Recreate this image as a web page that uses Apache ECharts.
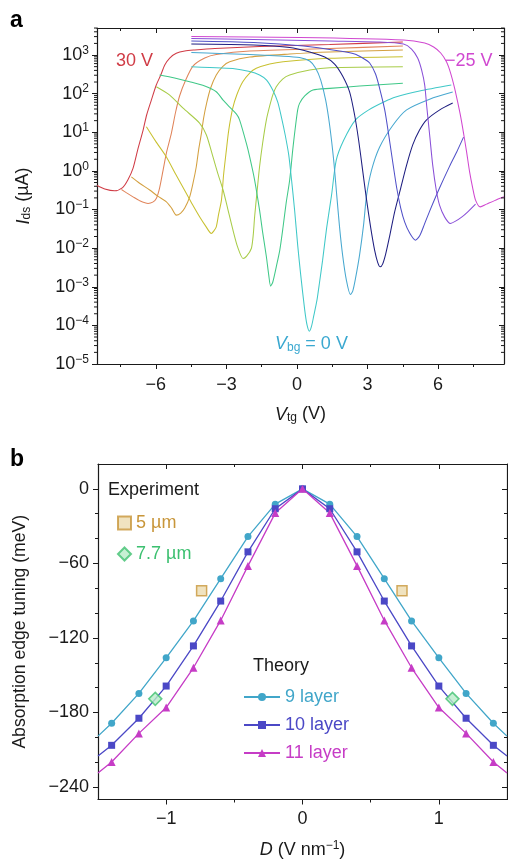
<!DOCTYPE html>
<html><head><meta charset="utf-8">
<script src="https://cdn.jsdelivr.net/npm/echarts@6/dist/echarts.min.js"></script>
<style>html,body{margin:0;padding:0;background:#fff}#c{width:508px;height:860px}</style>
</head><body><div id="c"></div>
<script>
// ---------- Panel a data: [Vtg (V), Ids (µA)] per back-gate voltage ----------
const vbgLabels = ['30 V','25 V','20 V','15 V','10 V','5 V','0 V','-5 V','-10 V','-15 V','-20 V','-25 V'];
const vbgColors = ['#d03c46','#e0845a','#d4a040','#c8c030','#a8cc48','#40c888','#40c8c8','#48a8d0','#1e1e80','#5050c8','#8a50d8','#d048d0'];
const c30 = [[-8.5,0.42],[-8.17,0.34],[-7.75,0.305],[-7.41,0.37],[-7.19,0.58],[-6.97,1.16],[-6.77,3.5],[-6.54,11.4],[-6.39,28],[-6.19,68],[-5.98,167],[-5.79,304],[-5.62,551],[-5.41,836],[-5.13,1107],[-4.77,1270],[-4.35,1349],[-3.49,1474],[-1.59,1660],[1.39,1872],[4.5,2174]];
const c25 = [[-7.46,0.33],[-7.24,0.27],[-6.97,0.213],[-6.69,0.17],[-6.33,0.144],[-6.13,0.155],[-5.98,0.193],[-5.84,0.36],[-5.69,1.05],[-5.54,3.1],[-5.34,9.4],[-5.16,33],[-4.99,87],[-4.73,225],[-4.42,519],[-3.92,836],[-3.43,1030],[-2.01,1270],[1.39,1474],[4.5,1712]];
const c20 = [[-7.04,0.70],[-6.69,0.48],[-6.26,0.32],[-5.92,0.222],[-5.55,0.158],[-5.33,0.109],[-5.13,0.0716],[-4.94,0.081],[-4.77,0.109],[-4.56,0.213],[-4.41,0.51],[-4.28,1.28],[-4.18,3.5],[-4.06,9.5],[-3.97,23],[-3.84,57],[-3.67,140],[-3.43,304],[-3.16,504],[-2.86,670],[-2.01,888],[-0.31,1061],[1.39,1197],[4.5,1349]];
const c15 = [[-6.40,13.9],[-6.01,5.9],[-5.55,2.3],[-5.16,0.83],[-4.70,0.26],[-4.43,0.13],[-4.14,0.0647],[-3.88,0.0372],[-3.64,0.024],[-3.54,0.0276],[-3.43,0.0357],[-3.33,0.076],[-3.21,0.175],[-3.12,0.78],[-3.00,3.5],[-2.90,11.4],[-2.73,42],[-2.56,92],[-2.31,200],[-2.01,342],[-1.73,452],[-1.16,585],[-0.59,670],[1.39,822],[4.5,904]];
const c10 = [[-5.98,151],[-5.41,92],[-4.84,42],[-4.14,17.3],[-3.85,8.5],[-3.57,2.3],[-3.37,0.88],[-3.14,0.32],[-2.95,0.109],[-2.72,0.0293],[-2.52,0.0106],[-2.29,0.0054],[-2.14,0.0062],[-1.94,0.0098],[-1.86,0.0217],[-1.80,0.0647],[-1.69,0.32],[-1.59,1.28],[-1.46,5.2],[-1.30,21],[-1.16,48],[-1.03,92],[-0.88,151],[-0.61,239],[-0.31,304],[0.54,408],[1.39,469],[4.5,498]];
const c5 = [[-5.84,304],[-5.20,254],[-4.56,203],[-3.92,157],[-3.43,112],[-3.14,68],[-2.86,45],[-2.58,30],[-2.44,21],[-2.15,5.15],[-2.01,2.3],[-1.80,0.58],[-1.59,0.096],[-1.46,0.026],[-1.30,0.006],[-1.20,0.0020],[-1.12,0.00104],[-1.03,0.00131],[-0.88,0.00328],[-0.73,0.0089],[-0.59,0.0357],[-0.46,0.147],[-0.31,0.58],[-0.18,3.5],[-0.10,9.4],[0.03,38],[0.11,56],[0.33,87],[0.68,124],[1.39,137],[2.66,157],[4.5,185]];
const c0 = [[-4.49,498],[-3.71,475],[-2.73,447],[-2.01,374],[-1.59,304],[-1.29,225],[-1.03,124],[-0.82,61],[-0.65,23],[-0.50,8.5],[-0.35,2.6],[-0.23,0.58],[-0.10,0.096],[0.03,0.012],[0.16,0.0020],[0.33,0.000248],[0.43,0.000101],[0.53,0.0000708],[0.62,0.0000953],[0.71,0.000173],[0.85,0.00045],[0.96,0.00131],[1.09,0.00489],[1.26,0.033],[1.47,0.236],[1.67,1.9],[1.99,6.3],[2.49,21],[3.05,38],[3.69,61],[4.2,82],[5.21,117],[6.56,167]];
const cm5 = [[-4.49,1161],[-3.29,1094],[-2.01,1030],[-0.74,942],[0.11,861],[0.54,699],[0.79,460],[1.01,225],[1.22,68],[1.39,15],[1.56,1.9],[1.69,0.236],[1.81,0.035],[1.94,0.0066],[2.10,0.00148],[2.27,0.00063],[2.37,0.00077],[2.49,0.00167],[2.66,0.0066],[2.83,0.0394],[2.96,0.236],[3.17,1.05],[3.51,4.1],[4.07,15],[4.66,38],[5.64,72],[6.62,110]];
const cm10 = [[-4.49,1929],[-1.84,1817],[-0.31,1565],[0.54,1197],[1.18,888],[1.60,585],[1.94,286],[2.24,110],[2.45,28],[2.62,6.3],[2.79,1.05],[2.96,0.175],[3.13,0.035],[3.30,0.0089],[3.43,0.0043],[3.54,0.00328],[3.64,0.00385],[3.77,0.0070],[3.94,0.0205],[4.15,0.086],[4.41,0.36],[4.66,1.41],[4.92,4.7],[5.21,11.4],[5.51,21],[6.07,38],[6.62,57]];
const cm15 = [[-4.49,2308],[-1.84,2110],[0.28,1712],[1.81,1270],[2.45,1061],[2.79,836],[3.09,621],[3.34,322],[3.51,140],[3.73,38],[3.90,8.5],[4.07,1.7],[4.24,0.36],[4.41,0.109],[4.58,0.0472],[4.79,0.0245],[5.03,0.0161],[5.21,0.0205],[5.42,0.0419],[5.64,0.091],[6.06,0.36],[6.49,1.33],[6.79,3.1],[7.08,7.5]];
const cm20 = [[-4.49,2675],[-1.84,2521],[1.39,2308],[3.51,2174],[4.53,1929],[4.87,1430],[5.13,836],[5.30,408],[5.43,167],[5.51,51],[5.64,8.5],[5.77,1.41],[5.92,0.32],[6.06,0.13],[6.28,0.0636],[6.52,0.0437],[6.74,0.050],[7.00,0.0636],[7.25,0.086],[7.59,0.138]];
const cm25 = [[-4.49,3013],[0.11,2838],[4.53,2449],[5.43,2049],[5.81,1612],[6.11,1127],[6.36,659],[6.53,342],[6.70,140],[6.83,61],[6.96,25],[7.08,9.5],[7.21,3.1],[7.34,0.93],[7.47,0.36],[7.59,0.175],[7.79,0.117],[8.06,0.138],[8.40,0.170],[8.8,0.213]];
const curvesA = [c30,c25,c20,c15,c10,c5,c0,cm5,cm10,cm15,cm20,cm25];
const xTickLabelsA = [-6,-3,0,3,6];
const xMinorA = [-7.5,-4.5,-1.5,1.5,4.5,7.5];

// ---------- Panel b data ----------
const dVals = [-1.5,-1.4,-1.2,-1.0,-0.8,-0.6,-0.4,-0.2,0,0.2,0.4,0.6,0.8,1.0,1.2,1.4,1.5];
const layer9 = [-199,-188.6,-164.6,-136,-106.3,-72.3,-38.4,-12.3,0,-12.3,-38.4,-72.3,-106.3,-136,-164.6,-188.6,-199];
const layer10 = [-215,-206.4,-184.6,-158.7,-126.4,-90.3,-50.7,-16,0,-16,-50.7,-90.3,-126.4,-158.7,-184.6,-206.4,-215];
const layer11 = [-228.6,-219.8,-196.8,-176,-144,-105.9,-62,-19.5,0,-19.5,-62,-105.9,-144,-176,-196.8,-219.8,-228.6];
const exp5um = [[-0.74,-82],[0.73,-82]];
const exp77um = [[-1.08,-169],[1.1,-169]];
const yMajorB = [0,-60,-120,-180,-240];
const yMinorB = [-20,-40,-80,-100,-140,-160,-200,-220];
const xMajorB = [-1,0,1];
const xMinorB = [-0.5,0.5];

const FONT = '"Liberation Sans", Arial, Helvetica, sans-serif';
const FS = 18;
const BLACK = '#1a1a1a';
const XA_MIN = -8.5, XA_MAX = 8.8, YA_MIN = 1e-5, YA_MAX = Math.pow(10,3.7);
const chart = echarts.init(document.getElementById('c'), null, {renderer:'canvas'});

// log minor tick positions (2..9 x 10^k)
const minorLog = [];
for (let e=-5; e<=3; e++) for (let m=2; m<=9; m++) { const v = m*Math.pow(10,e); if (v < YA_MAX) minorLog.push(v); }

function expLabel(v){
  const e = Math.round(Math.log10(v));
  return '{b|10}{s|' + (e<0 ? '−'+(-e) : e) + '}';
}
const richExp = { b:{fontSize:FS, fontFamily:FONT, color:BLACK}, s:{fontSize:12, fontFamily:FONT, color:BLACK, padding:[0,0,9,0]} };
const minusFmt = v => (v<0 ? '−'+(-v) : ''+v);
const lineAxis = {show:true, onZero:false, lineStyle:{color:BLACK, width:1.2}};
const noLine = {show:false, onZero:false};
const titleRich = {i:{fontStyle:'italic',fontSize:FS,fontFamily:FONT,color:BLACK}, s:{fontSize:12,fontFamily:FONT,color:BLACK,padding:[7,0,0,0]}, u:{fontSize:12,fontFamily:FONT,color:BLACK,padding:[0,0,9,0]}};

function tickAxis(kind, grid, min, max, pos, vals, len, inside, line){
  return {type:kind, gridIndex:grid, min, max, position:pos, axisLine: line?lineAxis:noLine,
    axisTick:{show:true, inside, length:len, customValues:vals, lineStyle:{color:BLACK,width:1}},
    axisLabel:{show:false}, splitLine:{show:false}};
}

const option = {
  animation:false,
  textStyle:{fontFamily:FONT},
  grid:[{left:97, top:28, width:407, height:336},{left:98, top:464, width:409, height:338}],
  xAxis:[
    {type:'value', gridIndex:0, min:XA_MIN, max:XA_MAX, position:'bottom', axisLine:lineAxis,
      axisTick:{show:true, length:5, customValues:xTickLabelsA, lineStyle:{color:BLACK,width:1}},
      axisLabel:{customValues:xTickLabelsA, fontSize:FS, fontFamily:FONT, color:BLACK, margin:12, formatter:minusFmt},
      splitLine:{show:false},
      name:'{i|V}{s|tg} (V)', nameLocation:'middle', nameGap:41,
      nameTextStyle:{fontSize:FS, fontFamily:FONT, color:BLACK, rich:titleRich}},
    tickAxis('value',0,XA_MIN,XA_MAX,'bottom',xMinorA,3,false,false),
    tickAxis('value',0,XA_MIN,XA_MAX,'top',xTickLabelsA,5,true,true),
    tickAxis('value',0,XA_MIN,XA_MAX,'top',xMinorA,3,true,false),
    // panel b
    {type:'value', gridIndex:1, min:-1.5, max:1.5, position:'bottom', axisLine:lineAxis,
      axisTick:{show:true,length:5,customValues:xMajorB,lineStyle:{color:BLACK}},
      axisLabel:{customValues:xMajorB, fontSize:FS, fontFamily:FONT, color:BLACK, margin:11, formatter:minusFmt},
      splitLine:{show:false},
      name:'{i|D} (V nm{u|−1})', nameLocation:'middle', nameGap:40,
      nameTextStyle:{fontSize:FS,fontFamily:FONT,color:BLACK,rich:titleRich}},
    tickAxis('value',1,-1.5,1.5,'bottom',xMinorB,3,false,false),
    tickAxis('value',1,-1.5,1.5,'top',xMajorB,5,true,true),
    tickAxis('value',1,-1.5,1.5,'top',xMinorB,3,true,false)
  ],
  yAxis:[
    {type:'log', gridIndex:0, logBase:10, min:YA_MIN, max:YA_MAX, interval:1, position:'left',
      axisLine:lineAxis, axisTick:{show:true,length:5,lineStyle:{color:BLACK}},
      axisLabel:{fontFamily:FONT, color:BLACK, margin:8, showMaxLabel:false, formatter:expLabel, rich:richExp},
      splitLine:{show:false}, minorTick:{show:false},
      name:'{i|I}{s|ds} (µA)', nameLocation:'middle', nameGap:64,
      nameTextStyle:{fontSize:FS,fontFamily:FONT,color:BLACK,rich:titleRich}},
    {type:'log', gridIndex:0, logBase:10, min:YA_MIN, max:YA_MAX, interval:1, position:'right',
      axisLine:lineAxis, axisTick:{show:true,inside:true,length:5,lineStyle:{color:BLACK}}, axisLabel:{show:false}, splitLine:{show:false}},
    // panel b
    {type:'value', gridIndex:1, min:-250, max:20, position:'left', axisLine:lineAxis,
      axisTick:{show:true,length:5,customValues:yMajorB,lineStyle:{color:BLACK}},
      axisLabel:{customValues:yMajorB, fontSize:FS, fontFamily:FONT, color:BLACK, margin:9, formatter:minusFmt},
      splitLine:{show:false},
      name:'Absorption edge tuning (meV)', nameLocation:'middle', nameGap:69, nameTextStyle:{fontSize:17.6,fontFamily:FONT,color:BLACK}},
    tickAxis('value',1,-250,20,'left',yMinorB,3,false,false),
    tickAxis('value',1,-250,20,'right',yMajorB,5,true,true),
    tickAxis('value',1,-250,20,'right',yMinorB,3,true,false)
  ],
  legend:[
    {data:[{name:'5 µm', textStyle:{color:'#c8963a'}},{name:'7.7 µm', textStyle:{color:'#3cc070'}}],
     orient:'vertical', left:112, top:509, itemWidth:13, itemHeight:13, itemGap:13,
     textStyle:{fontSize:FS, fontFamily:FONT}},
    {data:[{name:'9 layer', textStyle:{color:'#41a6c9'}},{name:'10 layer', textStyle:{color:'#4b48c6'}},{name:'11 layer', textStyle:{color:'#c63cc6'}}],
     orient:'vertical', left:238, top:683, itemWidth:36, itemHeight:10, itemGap:10,
     textStyle:{fontSize:FS, fontFamily:FONT}}
  ],
  graphic:[
    {type:'text', left:10, top:9, style:{text:'a', font:'bold 23px '+FONT, fill:'#000'}},
    {type:'text', left:10, top:448, style:{text:'b', font:'bold 23px '+FONT, fill:'#000'}},
    {type:'text', left:116, top:52, style:{text:'30 V', font:FS+'px '+FONT, fill:'#d03c46'}},
    {type:'text', left:445, top:52, style:{text:'−25 V', font:FS+'px '+FONT, fill:'#d048d0'}},
    {type:'text', left:275, top:335, style:{text:'{i|V}{s|bg} = 0 V', font:FS+'px '+FONT, fill:'#3aa8d0',
      rich:{i:{fontStyle:'italic',fontSize:FS,fontFamily:FONT,fill:'#3aa8d0'}, s:{fontSize:12,fontFamily:FONT,fill:'#3aa8d0',padding:[7,0,0,0]}}}},
    {type:'text', left:108, top:481, style:{text:'Experiment', font:FS+'px '+FONT, fill:BLACK}},
    {type:'text', left:253, top:657, style:{text:'Theory', font:FS+'px '+FONT, fill:BLACK}}
  ],
  series:[]
};
curvesA.forEach((d,i)=>{
  option.series.push({type:'line', name:vbgLabels[i], xAxisIndex:0, yAxisIndex:0, data:d, showSymbol:false, symbol:'none',
    smooth:0.25, lineStyle:{color:vbgColors[i], width:1.05}, z:2+i, silent:true});
});
// minor log ticks drawn through the axis scale
option.series.push({type:'custom', xAxisIndex:0, yAxisIndex:0, silent:true, clip:false, z:20,
  data: minorLog.map(v=>[XA_MIN, v]),
  renderItem:(params, api)=>{
    const v = api.value(1);
    const pl = api.coord([XA_MIN, v]), pr = api.coord([XA_MAX, v]);
    const st = {stroke:BLACK, lineWidth:1};
    return {type:'group', children:[
      {type:'line', shape:{x1:pl[0]-3,y1:pl[1],x2:pl[0],y2:pl[1]}, style:st},
      {type:'line', shape:{x1:pr[0]-3,y1:pr[1],x2:pr[0],y2:pr[1]}, style:st}
    ]};
  }});
function theory(name, vals, color, symbol, size){
  return {type:'line', name, xAxisIndex:4, yAxisIndex:2, color,
    data: dVals.map((d,i)=> Math.abs(d)>1.45 ? {value:[d,vals[i]], symbol:'none'} : [d,vals[i]]),
    symbol, symbolSize:size, lineStyle:{color, width:1.3}, itemStyle:{color}, z:5};
}
option.series.push(theory('9 layer', layer9, '#41a6c9', 'circle', 7));
option.series.push(theory('10 layer', layer10, '#4b48c6', 'rect', 7));
option.series.push(theory('11 layer', layer11, '#c63cc6', 'triangle', 8));
option.series.push({type:'scatter', name:'5 µm', xAxisIndex:4, yAxisIndex:2, data:exp5um, symbol:'rect', symbolSize:10,
  itemStyle:{color:'#ecdcb0', borderColor:'#c8963a', borderWidth:1.5}, z:6});
option.series.push({type:'scatter', name:'7.7 µm', xAxisIndex:4, yAxisIndex:2, data:exp77um, symbol:'diamond', symbolSize:13,
  itemStyle:{color:'#b8ecc8', borderColor:'#40c070', borderWidth:1.5}, z:6});
chart.setOption(option);
</script></body></html>
